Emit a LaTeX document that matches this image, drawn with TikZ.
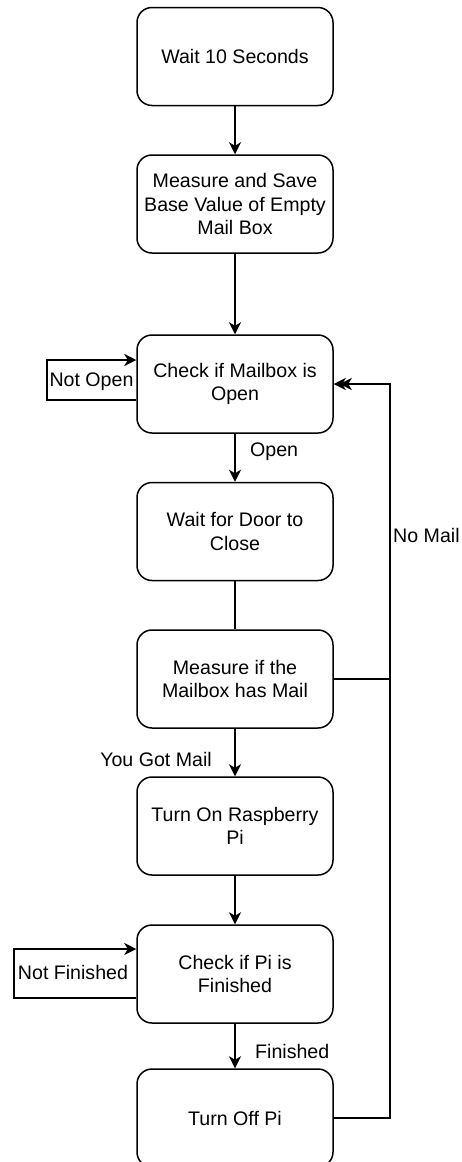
\documentclass[tikz,border=0pt]{standalone}
\usepackage{fontspec}
\setmainfont{Liberation Sans}
\usetikzlibrary{arrows.meta}
\begin{document}
\begin{tikzpicture}[x=1pt,y=-1pt,
  box/.style={draw, line width=1.5pt, rounded corners=15pt, minimum width=196pt, minimum height=98pt, inner sep=0pt, align=center, font=\fontsize{19.6}{23.5}\selectfont},
  lbl/.style={inner sep=0pt, font=\fontsize{19.6}{23.5}\selectfont},
  conn/.style={line width=1.5pt},
  arr/.style={conn, -{Stealth[length=12pt,width=12pt,inset=3.5pt]}}]
\useasboundingbox (0,0) rectangle (462,1162);
\node[box] (b1) at (235,56.5) {Wait 10 Seconds};
\node[box] (b2) at (235,204) {Measure and Save\\Base Value of Empty\\Mail Box};
\node[box] (b3) at (235,384) {Check if Mailbox is\\Open};
\node[box] (b4) at (235,531.5) {Wait for Door to\\Close};
\node[box] (b5) at (235,679) {Measure if the\\Mailbox has Mail};
\node[box] (b6) at (235,826) {Turn On Raspberry\\Pi};
\node[box] (b7) at (235,974) {Check if Pi is\\Finished};
\node[box] (b8) at (235,1118) {Turn Off Pi};
\draw[arr] (b1) -- (b2);
\draw[arr] (b2) -- (b3);
\draw[arr] (b3) -- (b4);
\draw[conn] (b4) -- (b5);
\draw[arr] (b5) -- (b6);
\draw[arr] (b6) -- (b7);
\draw[arr] (b7) -- (b8);
% Not Open loop
\coordinate (no1) at (47,400);
\coordinate (no2) at (47,360);
\draw[arr] (b3.west |- no1) -- (no1) -- (no2) -- (b3.west |- no2);
% Not Finished loop
\coordinate (nf1) at (14,998);
\coordinate (nf2) at (14,949);
\draw[arr] (b7.west |- nf1) -- (nf1) -- (nf2) -- (b7.west |- nf2);
% No Mail return
\coordinate (r5) at (390,679);
\coordinate (r8) at (390,1118);
\coordinate (rt) at (390,384);
\draw[arr] (b8.east) -- (r8) -- (rt) -- (b3.east);
\draw[arr] (b5.east) -- (r5) -- (rt) -- ([xshift=6pt]b3.east);
% labels
\node[lbl, anchor=west] (lopen) at (250,452) {Open};
\node[lbl, anchor=west] (lnomail) at (393,535) {No Mail};
\node[lbl] (lgot) at (156,759) {You Got Mail};
\node[lbl, anchor=west] (lfin) at (255,1051) {Finished};
\node[lbl] (lnotopen) at (91.5,382) {Not Open};
\node[lbl] (lnotfin) at (73,972) {Not Finished};
\end{tikzpicture}
\end{document}
